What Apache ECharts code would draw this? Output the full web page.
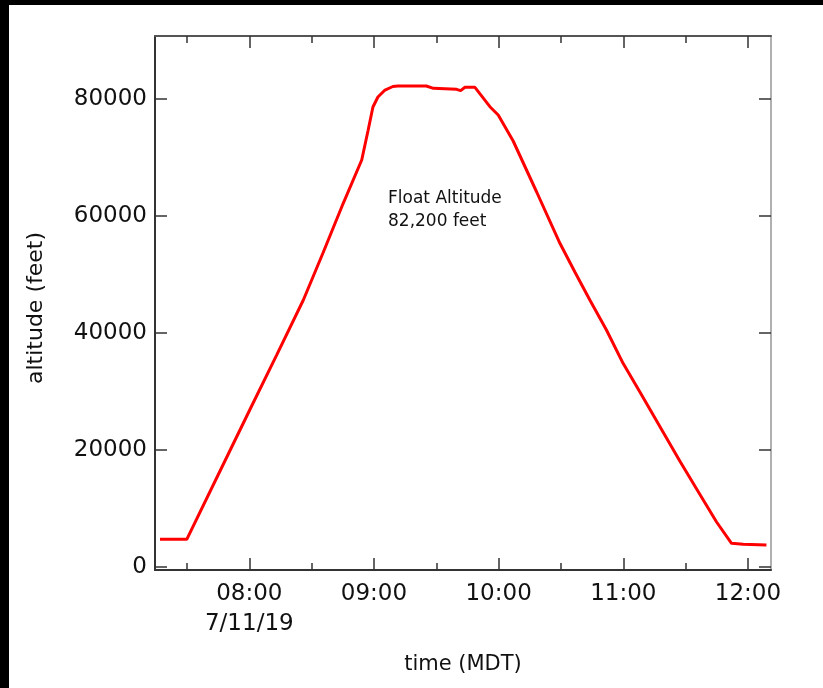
<!DOCTYPE html>
<html>
<head>
<meta charset="utf-8">
<script src="https://cdn.jsdelivr.net/npm/echarts@6/dist/echarts.min.js"></script>
<style>
html,body{margin:0;padding:0;background:#fff;}
#c{width:823px;height:688px;}
</style>
</head>
<body>
<div id="c"></div>
<script>
// time in minutes since midnight (MDT), 7/11/19
const timeMinutes = [437.0, 449.9, 465.9, 480.3, 493.2, 506.0, 515.5, 525.2, 534.1, 537.1, 539.5, 541.9, 545.3, 549.1, 551.5, 565.2, 568.6, 579.8, 581.7, 583.8, 588.6, 595.8, 599.8, 607.0, 618.3, 629.5, 636.7, 643.9, 651.9, 659.9, 668.0, 680.8, 687.2, 695.3, 704.9, 712.1, 717.7, 728.9];
// altitude in feet
const altitudeFeet = [4735, 4735, 16410, 26923, 36274, 45641, 53726, 62170, 69573, 74530, 78632, 80342, 81538, 82137, 82222, 82222, 81826, 81650, 81430, 82000, 82000, 78684, 77265, 72821, 64103, 55333, 50427, 45641, 40513, 34821, 29915, 22051, 18120, 13333, 7692, 4051, 3880, 3760];

const majorTimeTicks = [480, 540, 600, 660, 720];
const minorTimeTicks = [450, 510, 570, 630, 690];
const altitudeTicks = [0, 20000, 40000, 60000, 80000];
const dateLabel = '7/11/19';
const annotationLines = ['Float Altitude', '82,200 feet'];

const xMin = 434.6, xMax = 731.1;
const yMin = -513, yMax = 90770;

function hhmm(m) {
  const h = Math.floor(m / 60), mm = Math.round(m - h * 60);
  return String(h).padStart(2, '0') + ':' + String(mm).padStart(2, '0');
}

const FONT = 'DejaVu Sans';
const axisCol = '#333';

const series = [{
  type: 'line',
  data: timeMinutes.map((t, i) => [t, altitudeFeet[i]]),
  showSymbol: false,
  symbol: 'none',
  lineStyle: { color: '#ff0000', width: 3 },
  xAxisIndex: 0, yAxisIndex: 0,
  z: 5
}];

const baseX = { type: 'value', min: xMin, max: xMax, splitLine: { show: false } };
const baseY = { type: 'value', min: yMin, max: yMax, splitLine: { show: false } };

const option = {
  animation: false,
  backgroundColor: '#ffffff',
  grid: { left: 155, right: 52, top: 36, bottom: 118, containLabel: false },
  xAxis: [
    Object.assign({}, baseX, {
      position: 'bottom',
      name: 'time (MDT)', nameLocation: 'middle', nameGap: 84,
      nameTextStyle: { fontFamily: FONT, fontSize: 21, color: '#111' },
      axisLine: { show: true, onZero: false, lineStyle: { color: axisCol, width: 2 } },
      axisTick: { show: true, inside: true, length: 12, customValues: majorTimeTicks, lineStyle: { color: axisCol, width: 1.5 } },
      axisLabel: {
        show: true, customValues: majorTimeTicks, margin: 9,
        fontFamily: FONT, fontSize: 23, color: '#111', lineHeight: 30,
        verticalAlign: 'top',
        formatter: v => (Math.abs(v - 480) < 0.01 ? hhmm(v) + '\n' + dateLabel : hhmm(v))
      }
    }),
    Object.assign({}, baseX, {
      position: 'bottom',
      axisLine: { show: false, onZero: false },
      axisTick: { show: true, inside: true, length: 7, customValues: minorTimeTicks, lineStyle: { color: axisCol, width: 1.5 } },
      axisLabel: { show: false }
    }),
    Object.assign({}, baseX, {
      position: 'top',
      axisLine: { show: true, onZero: false, lineStyle: { color: '#555', width: 2 } },
      axisTick: { show: true, inside: true, length: 12, customValues: majorTimeTicks, lineStyle: { color: axisCol, width: 1.5 } },
      axisLabel: { show: false }
    }),
    Object.assign({}, baseX, {
      position: 'top',
      axisLine: { show: false, onZero: false },
      axisTick: { show: true, inside: true, length: 7, customValues: minorTimeTicks, lineStyle: { color: axisCol, width: 1.5 } },
      axisLabel: { show: false }
    })
  ],
  yAxis: [
    Object.assign({}, baseY, {
      position: 'left',
      name: 'altitude (feet)', nameLocation: 'middle', nameGap: 108,
      nameTextStyle: { fontFamily: FONT, fontSize: 22, color: '#111', padding: [0, 10, 0, 0] },
      axisLine: { show: true, onZero: false, lineStyle: { color: axisCol, width: 2 } },
      axisTick: { show: true, inside: true, length: 12, customValues: altitudeTicks, lineStyle: { color: axisCol, width: 1.5 } },
      axisLabel: { show: true, customValues: altitudeTicks, margin: 8, fontFamily: FONT, fontSize: 23, color: '#111',
        formatter: v => String(Math.round(v)) }
    }),
    Object.assign({}, baseY, {
      position: 'right',
      axisLine: { show: true, onZero: false, lineStyle: { color: '#b0b0b0', width: 2 } },
      axisTick: { show: true, inside: true, length: 12, customValues: altitudeTicks, lineStyle: { color: axisCol, width: 1.5 } },
      axisLabel: { show: false }
    })
  ],
  graphic: [
    { type: 'rect', left: 0, top: 0, shape: { width: 823, height: 5 }, style: { fill: '#000' }, z: 100 },
    { type: 'rect', left: 0, top: 0, shape: { width: 9, height: 688 }, style: { fill: '#000' }, z: 100 },
    { type: 'text', left: 388, top: 187, z: 50,
      style: { text: annotationLines.join('\n'), fontFamily: FONT, fontSize: 17, lineHeight: 23, fill: '#111' } }
  ],
  series: series
};

const chart = echarts.init(document.getElementById('c'), null, { renderer: 'canvas' });
chart.setOption(option);
</script>
</body>
</html>
